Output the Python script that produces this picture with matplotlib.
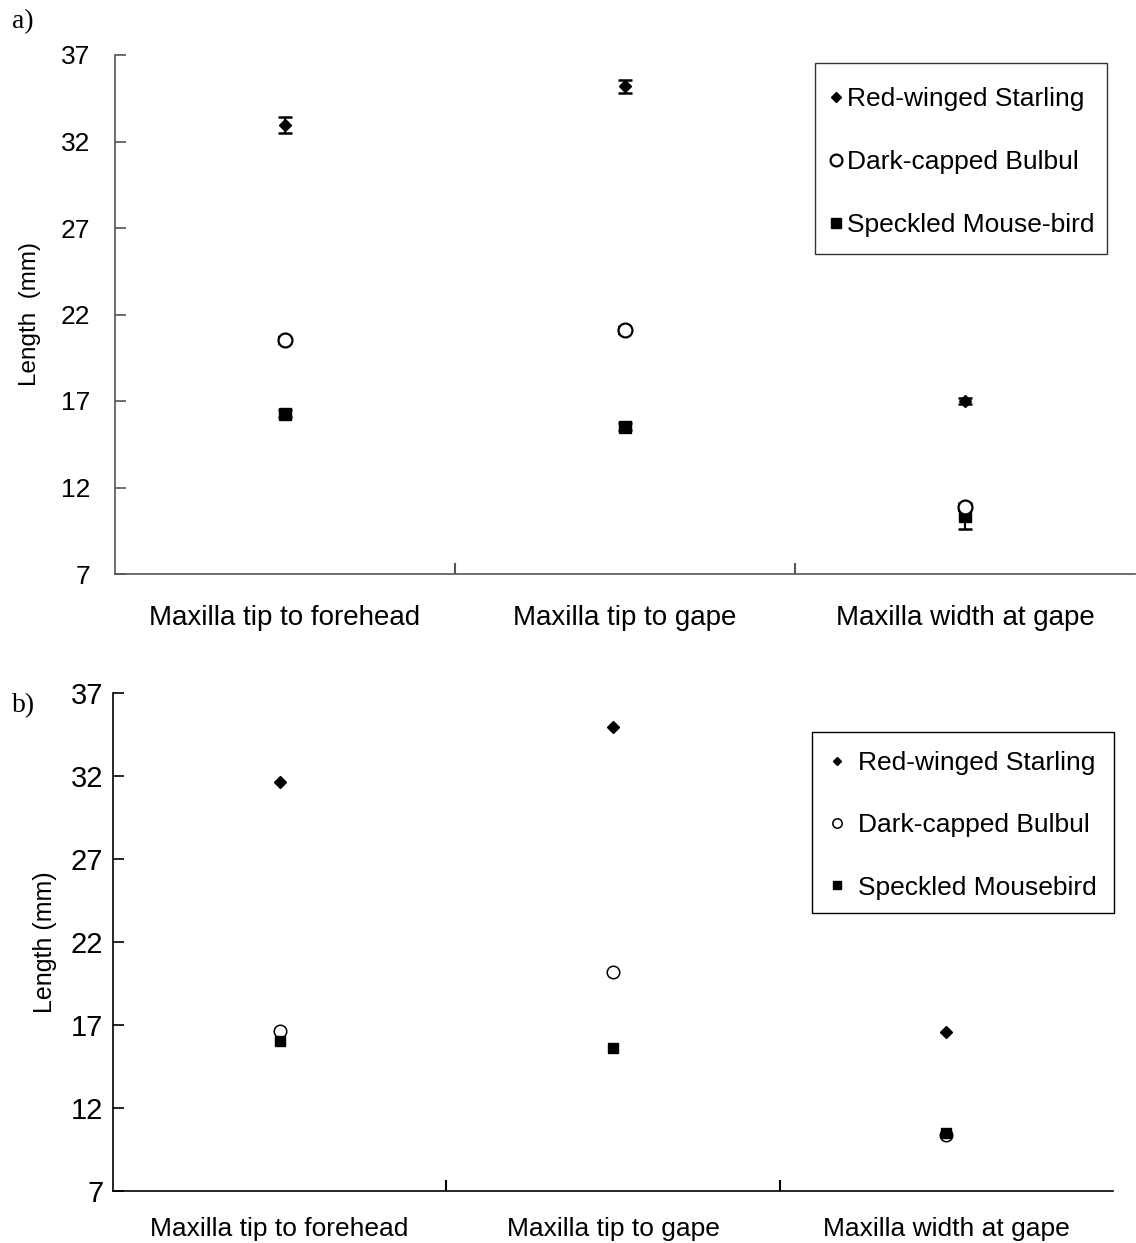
import matplotlib
matplotlib.use("Agg")
import matplotlib.pyplot as plt
from matplotlib.patches import Rectangle
from matplotlib.ticker import FixedLocator, NullFormatter

plt.rcParams['font.family'] = ['Liberation Sans', 'DejaVu Sans']

# Bill measurements (mm)
measures = ["Maxilla tip to forehead", "Maxilla tip to gape", "Maxilla width at gape"]
yticks = [7, 12, 17, 22, 27, 32, 37]

# panel a: means with error bars
a_starling = [32.95, 35.2, 17.0]
a_starling_err = [0.48, 0.37, 0.15]
a_bulbul = [20.5, 21.1, 10.85]
a_bulbul_err = [0.2, 0.2, 0.2]
a_mousebird = [16.27, 15.52, 10.35]
a_mousebird_err = [0.2, 0.2, 0.75]
a_labels = ["Red-winged Starling", "Dark-capped Bulbul", "Speckled Mouse-bird"]

# panel b: means
b_starling = [31.64, 34.95, 16.58]
b_bulbul = [16.64, 20.19, 10.37]
b_mousebird = [16.04, 15.61, 10.5]
b_labels = ["Red-winged Starling", "Dark-capped Bulbul", "Speckled Mousebird"]

fig = plt.figure(figsize=(11.36, 12.43), dpi=100)
W, H = 1136, 1243


def frac(x0, y0, x1, y1):
    return [x0 / W, 1 - y1 / H, (x1 - x0) / W, (y1 - y0) / H]


def style_axes(ax, spine_color, ytick_size, xlab_size, ytick_pad, xlab_pad):
    ax.set_xlim(-0.5, 2.5)
    ax.set_ylim(7, 37)
    ax.set_yticks(yticks)
    ax.set_yticklabels([str(v) for v in yticks])
    for s in ("top", "right"):
        ax.spines[s].set_visible(False)
    for s in ("left", "bottom"):
        ax.spines[s].set_color(spine_color)
        ax.spines[s].set_linewidth(1.2)
    ax.xaxis.set_major_locator(FixedLocator([0.5, 1.5]))
    ax.xaxis.set_major_formatter(NullFormatter())
    ax.xaxis.set_minor_locator(FixedLocator([0, 1, 2]))
    ax.set_xticklabels(measures, minor=True)
    ax.tick_params(axis="x", which="major", direction="in", length=8,
                   width=1.5, color=spine_color)
    ax.tick_params(axis="x", which="minor", length=0, pad=xlab_pad,
                   labelsize=xlab_size)
    ax.tick_params(axis="y", direction="in", length=8, width=1.2,
                   color=spine_color, labelsize=ytick_size, pad=ytick_pad)


def framed_legend(ax, handles, labels, anchor, box, edge, **kw):
    leg = ax.legend(handles, labels, loc="upper left",
                    bbox_to_anchor=(anchor[0] / W, 1 - anchor[1] / H),
                    bbox_transform=fig.transFigure, frameon=False,
                    borderpad=0, borderaxespad=0, **kw)
    x0, y0, x1, y1 = box
    fig.patches.append(Rectangle((x0 / W, 1 - y1 / H), (x1 - x0) / W,
                                 (y1 - y0) / H, transform=fig.transFigure,
                                 fill=False, edgecolor=edge, linewidth=1.0))
    return leg


x = [0, 1, 2]
order = [2, 1, 0]

# ---------- panel a ----------
axa = fig.add_axes(frac(115, 55, 1135, 574))
style_axes(axa, "#555555", 19, 20, 18, 22)
eb = dict(capsize=5, elinewidth=1.5, capthick=1.8, ecolor="black", linestyle="none")
axa.errorbar(x, a_mousebird, yerr=a_mousebird_err, marker="s", markersize=9,
             color="black", zorder=2, label=a_labels[2], **eb)
axa.errorbar(x, a_bulbul, yerr=a_bulbul_err, marker="o", markersize=10,
             markerfacecolor="white", markeredgecolor="black", markeredgewidth=1.6,
             color="black", zorder=3, label=a_labels[1], **eb)
axa.errorbar(x, a_starling, yerr=a_starling_err, marker="D", markersize=6.5,
             color="black", zorder=4, label=a_labels[0], **eb)
axa.set_ylabel("Length  (mm)", fontsize=17.5, labelpad=14)
h, l = axa.get_legend_handles_labels()
framed_legend(axa, [h[i][0] for i in order], [l[i] for i in order],
              anchor=(827, 87), box=(815, 63, 1107, 254), edge="#333333",
              fontsize=19, labelspacing=1.48, handlelength=0.69,
              handletextpad=0.08, markerscale=0.85)
fig.text(12 / W, 1 - 22 / H, "a)", fontsize=20, family="Liberation Serif",
         va="center", ha="left")

# ---------- panel b ----------
axb = fig.add_axes(frac(113, 693, 1113, 1191))
style_axes(axb, "black", 21, 19, 7, 19)
axb.plot(x, b_bulbul, linestyle="none", marker="o", markersize=9,
         markerfacecolor="white", markeredgecolor="black", markeredgewidth=1.1,
         zorder=2, label=b_labels[1])
axb.plot(x, b_mousebird, linestyle="none", marker="s", markersize=7,
         color="black", zorder=3, label=b_labels[2])
axb.plot(x, b_starling, linestyle="none", marker="D", markersize=6,
         color="black", zorder=4, label=b_labels[0])
axb.set_ylabel("Length (mm)", fontsize=18, labelpad=10)
h, l = axb.get_legend_handles_labels()
framed_legend(axb, [h[2], h[0], h[1]], [l[2], l[0], l[1]],
              anchor=(826, 751), box=(812, 732, 1114, 913), edge="black",
              fontsize=19, labelspacing=1.45, handlelength=0.8,
              handletextpad=0.4, markerscale=0.75)
fig.text(12 / W, 1 - 706 / H, "b)", fontsize=20, family="Liberation Serif",
         va="center", ha="left")

fig.savefig("out.png", dpi=100)
